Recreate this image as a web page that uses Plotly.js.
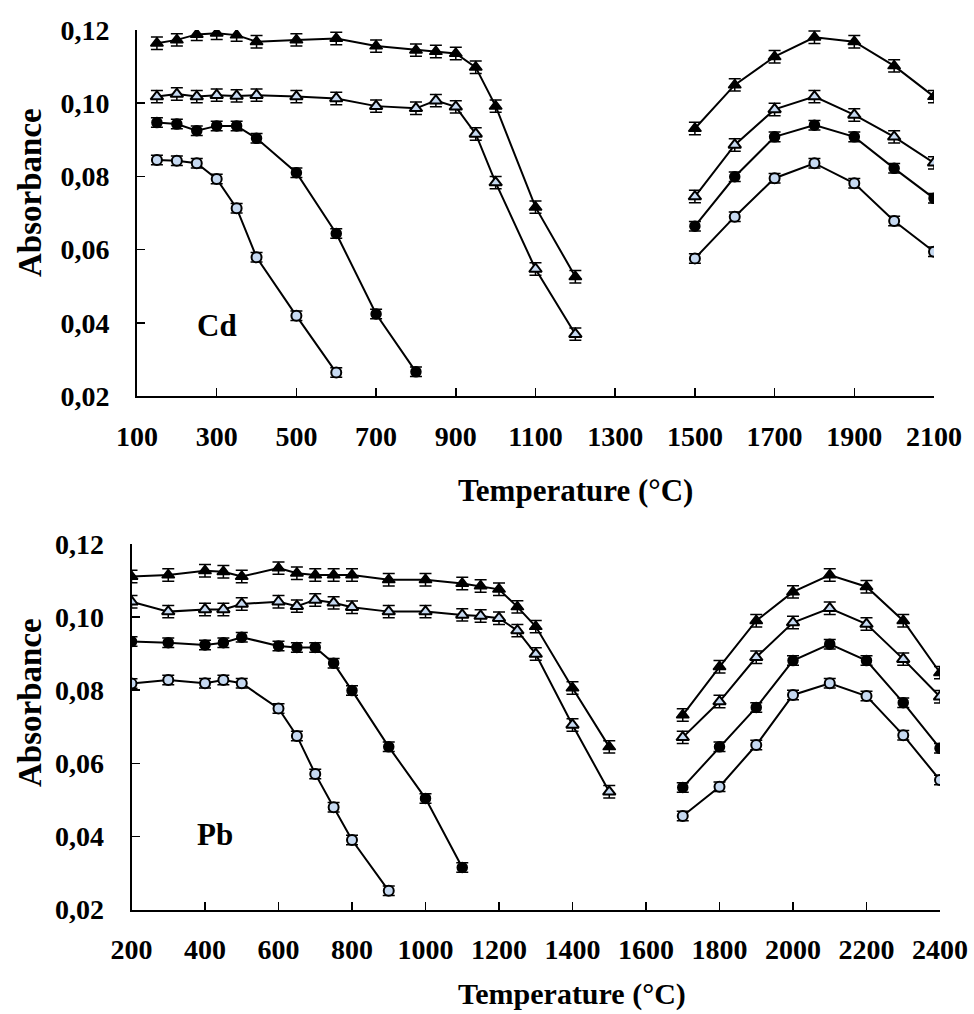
<!DOCTYPE html>
<html><head><meta charset="utf-8">
<script src="https://cdn.plot.ly/plotly-3.0.1.min.js"></script>
<style>html,body{margin:0;padding:0;background:#fff}#chart{width:974px;height:1014px}</style>
</head><body><div id="chart"></div>
<script>
// ---------- Cd (top panel) ----------
const cdTempTri = [150,200,250,300,350,400,500,600,700,800,850,900,950,1000,1100,1200];
const cdTempFilledCircle = [150,200,250,300,350,400,500,600,700,800];
const cdTempOpenCircle = [150,200,250,300,350,400,500,600];
const cdTempHigh = [1500,1600,1700,1800,1900,2000,2100];

const cdFilledTriLow = [0.1164,0.1173,0.1188,0.1191,0.1186,0.1168,0.1173,0.1177,0.1156,0.1145,0.1141,0.1136,0.1098,0.0992,0.0716,0.0526];
const cdOpenTriLow   = [0.1018,0.1025,0.1018,0.1022,0.1020,0.1022,0.1018,0.1013,0.0992,0.0986,0.1007,0.0990,0.0916,0.0783,0.0547,0.0369];
const cdFilledCircleLow = [0.0947,0.0943,0.0925,0.0938,0.0938,0.0904,0.0810,0.0644,0.0424,0.0266];
const cdOpenCircleLow   = [0.0845,0.0843,0.0836,0.0793,0.0713,0.0579,0.0419,0.0264];

const cdFilledTriHigh = [0.0931,0.1050,0.1127,0.1180,0.1168,0.1102,0.1018];
const cdOpenTriHigh   = [0.0745,0.0886,0.0983,0.1018,0.0968,0.0908,0.0837];
const cdFilledCircleHigh = [0.0664,0.0799,0.0908,0.0940,0.0908,0.0822,0.0740];
const cdOpenCircleHigh   = [0.0576,0.0690,0.0795,0.0836,0.0781,0.0678,0.0594];

// ---------- Pb (bottom panel) ----------
const pbTempTri = [200,300,400,450,500,600,650,700,750,800,900,1000,1100,1150,1200,1250,1300,1400,1500];
const pbTempFilledCircle = [200,300,400,450,500,600,650,700,750,800,900,1000,1100];
const pbTempOpenCircle = [200,300,400,450,500,600,650,700,750,800,900];
const pbTempHigh = [1700,1800,1900,2000,2100,2200,2300,2400];

const pbFilledTriLow = [0.1111,0.1115,0.1127,0.1124,0.1111,0.1134,0.1120,0.1115,0.1115,0.1115,0.1102,0.1102,0.1092,0.1085,0.1076,0.1028,0.0974,0.0806,0.0645];
const pbOpenTriLow   = [0.1042,0.1015,0.1021,0.1021,0.1036,0.1042,0.1030,0.1047,0.1039,0.1027,0.1015,0.1015,0.1006,0.1003,0.0997,0.0963,0.0899,0.0705,0.0522];
const pbFilledCircleLow = [0.0933,0.0930,0.0924,0.0930,0.0945,0.0921,0.0917,0.0917,0.0874,0.0799,0.0645,0.0504,0.0315];
const pbOpenCircleLow   = [0.0818,0.0828,0.0819,0.0828,0.0819,0.0750,0.0675,0.0571,0.0480,0.0390,0.0251];

const pbFilledTriHigh = [0.0732,0.0864,0.0990,0.1069,0.1115,0.1083,0.0990,0.0848];
const pbOpenTriHigh   = [0.0671,0.0769,0.0890,0.0985,0.1024,0.0981,0.0885,0.0782];
const pbFilledCircleHigh = [0.0534,0.0645,0.0753,0.0881,0.0926,0.0881,0.0766,0.0641];
const pbOpenCircleHigh   = [0.0456,0.0536,0.0650,0.0787,0.0819,0.0784,0.0677,0.0554];

// error bar half-height (absorbance)
const errTri = 0.0017;
const errCircle = 0.0013;

// ---------- ticks ----------
const absTickVals = [0.02,0.04,0.06,0.08,0.10,0.12];
const absTickText = ['0,02','0,04','0,06','0,08','0,10','0,12'];
const cdTickVals = [100,300,500,700,900,1100,1300,1500,1700,1900,2100];
const pbTickVals = [200,400,600,800,1000,1200,1400,1600,1800,2000,2200,2400];

const LIGHT = '#c6d9f1';
const W = 974, H = 1014;

const styles = {
  filledTri:   {symbol:'triangle-up', size:11, color:'#000', line:{color:'#000', width:1.5}},
  openTri:     {symbol:'triangle-up', size:11, color:LIGHT, line:{color:'#000', width:2}},
  filledCircle:{symbol:'circle', size:10, color:'#000', line:{color:'#000', width:1.5}},
  openCircle:  {symbol:'circle', size:10, color:LIGHT, line:{color:'#000', width:2}}
};

function tr(x, y, style, err, xa, ya) {
  return {
    type:'scatter', mode:'lines+markers', x:x, y:y, xaxis:xa, yaxis:ya,
    line:{color:'#000', width:2}, marker:styles[style], showlegend:false,
    error_y:{type:'constant', value:err, color:'#000', thickness:1.5, width:6},
    hoverinfo:'x+y'
  };
}

const data = [
  tr(cdTempTri, cdFilledTriLow, 'filledTri', errTri, 'x', 'y'),
  tr(cdTempTri, cdOpenTriLow, 'openTri', errTri, 'x', 'y'),
  tr(cdTempFilledCircle, cdFilledCircleLow, 'filledCircle', errCircle, 'x', 'y'),
  tr(cdTempOpenCircle, cdOpenCircleLow, 'openCircle', errCircle, 'x', 'y'),
  tr(cdTempHigh, cdFilledTriHigh, 'filledTri', errTri, 'x', 'y'),
  tr(cdTempHigh, cdOpenTriHigh, 'openTri', errTri, 'x', 'y'),
  tr(cdTempHigh, cdFilledCircleHigh, 'filledCircle', errCircle, 'x', 'y'),
  tr(cdTempHigh, cdOpenCircleHigh, 'openCircle', errCircle, 'x', 'y'),

  tr(pbTempTri, pbFilledTriLow, 'filledTri', errTri, 'x2', 'y2'),
  tr(pbTempTri, pbOpenTriLow, 'openTri', errTri, 'x2', 'y2'),
  tr(pbTempFilledCircle, pbFilledCircleLow, 'filledCircle', errCircle, 'x2', 'y2'),
  tr(pbTempOpenCircle, pbOpenCircleLow, 'openCircle', errCircle, 'x2', 'y2'),
  tr(pbTempHigh, pbFilledTriHigh, 'filledTri', errTri, 'x2', 'y2'),
  tr(pbTempHigh, pbOpenTriHigh, 'openTri', errTri, 'x2', 'y2'),
  tr(pbTempHigh, pbFilledCircleHigh, 'filledCircle', errCircle, 'x2', 'y2'),
  tr(pbTempHigh, pbOpenCircleHigh, 'openCircle', errCircle, 'x2', 'y2')
];

const tickFont = {family:'Liberation Serif, Times New Roman, serif', size:28, color:'#000', weight:'bold'};
const titleFont = {family:'Liberation Serif, Times New Roman, serif', size:31, color:'#000', weight:'bold'};

function xAxis(domain, range, vals, anchor) {
  return {domain:domain, range:range, anchor:anchor, tickvals:vals, ticktext:vals.map(String),
    showline:true, linecolor:'#000', linewidth:2, ticks:'inside', ticklen:8, tickwidth:1.5, tickcolor:'#000',
    showgrid:false, zeroline:false, tickfont:tickFont, ticklabelstandoff:14, fixedrange:true};
}
function yAxis(domain, anchor) {
  return {domain:domain, range:[0.02,0.12], anchor:anchor, tickvals:absTickVals, ticktext:absTickText,
    showline:true, linecolor:'#000', linewidth:2, ticks:'inside', ticklen:8, tickwidth:1.5, tickcolor:'#000',
    showgrid:false, zeroline:false, tickfont:tickFont, ticklabelstandoff:20, fixedrange:true};
}

const layout = {
  width:W, height:H, margin:{l:0, r:0, t:0, b:0},
  paper_bgcolor:'#fff', plot_bgcolor:'#fff', showlegend:false,
  xaxis: xAxis([137/W, 934/W], [100,2100], cdTickVals, 'y'),
  yaxis: yAxis([1-396/H, 1-30/H], 'x'),
  xaxis2: xAxis([131.5/W, 940/W], [200,2400], pbTickVals, 'y2'),
  yaxis2: yAxis([1-909.5/H, 1-544/H], 'x2'),
  annotations: [
    {text:'Cd', x:300, y:0.0394, xref:'x', yref:'y', showarrow:false, font:titleFont, xanchor:'center', yanchor:'middle'},
    {text:'Pb', x:428, y:0.0404, xref:'x2', yref:'y2', showarrow:false, font:titleFont, xanchor:'center', yanchor:'middle'},
    {text:'Temperature (°C)', x:575/W, y:1-491/H, xref:'paper', yref:'paper', showarrow:false, font:titleFont, xanchor:'center', yanchor:'middle'},
    {text:'Temperature (°C)', x:572/W, y:1-994/H, xref:'paper', yref:'paper', showarrow:false, font:{...titleFont, size:30}, xanchor:'center', yanchor:'middle'},
    {text:'Absorbance', x:30/W, y:1-193/H, xref:'paper', yref:'paper', showarrow:false, font:{...titleFont, size:33}, textangle:-90, xanchor:'center', yanchor:'middle'},
    {text:'Absorbance', x:30/W, y:1-703/H, xref:'paper', yref:'paper', showarrow:false, font:{...titleFont, size:33}, textangle:-90, xanchor:'center', yanchor:'middle'}
  ]
};

Plotly.newPlot('chart', data, layout, {displayModeBar:false, staticPlot:true});
</script>
</body></html>
